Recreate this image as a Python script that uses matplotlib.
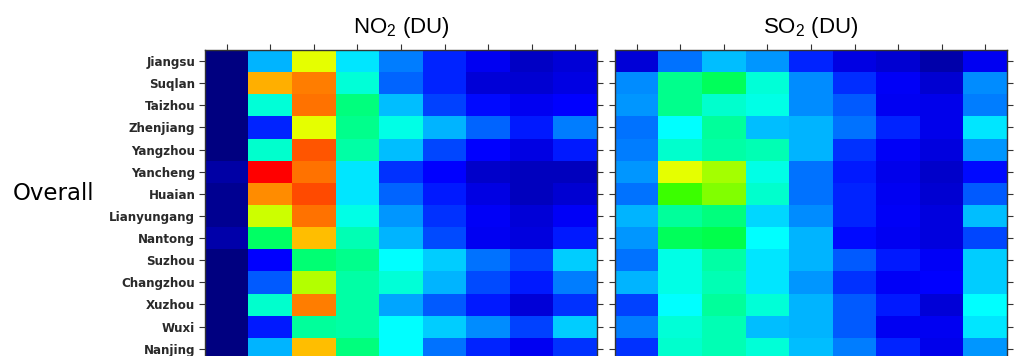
import numpy as np
import matplotlib
matplotlib.use("Agg")
import matplotlib.pyplot as plt
from matplotlib.colors import LinearSegmentedColormap

plt.rcParams['font.family'] = ['Liberation Sans', 'DejaVu Sans']
plt.rcParams['mathtext.default'] = 'regular'

cities = ["Jiangsu", "Suqlan", "Taizhou", "Zhenjiang", "Yangzhou", "Yancheng",
          "Huaian", "Lianyungang", "Nantong", "Suzhou", "Changzhou", "Xuzhou",
          "Wuxi", "Nanjing"]

# relative column amounts (0..1)
no2 = [
    [0.00, 0.34, 0.78, 0.38, 0.30, 0.23, 0.18, 0.11, 0.14],
    [0.00, 0.86, 0.90, 0.43, 0.28, 0.23, 0.14, 0.13, 0.16],
    [0.00, 0.43, 0.91, 0.50, 0.35, 0.25, 0.21, 0.18, 0.20],
    [0.00, 0.23, 0.78, 0.49, 0.42, 0.34, 0.28, 0.22, 0.30],
    [0.00, 0.44, 0.93, 0.47, 0.35, 0.255, 0.20, 0.16, 0.22],
    [0.06, 1.00, 0.91, 0.38, 0.24, 0.20, 0.12, 0.10, 0.10],
    [0.03, 0.89, 0.94, 0.38, 0.28, 0.22, 0.16, 0.10, 0.13],
    [0.03, 0.76, 0.91, 0.42, 0.32, 0.24, 0.19, 0.14, 0.19],
    [0.07, 0.52, 0.85, 0.46, 0.34, 0.26, 0.18, 0.15, 0.22],
    [0.00, 0.20, 0.51, 0.49, 0.40, 0.36, 0.29, 0.25, 0.36],
    [0.00, 0.27, 0.74, 0.47, 0.43, 0.34, 0.26, 0.22, 0.30],
    [0.00, 0.44, 0.90, 0.47, 0.33, 0.27, 0.22, 0.14, 0.24],
    [0.00, 0.22, 0.48, 0.47, 0.40, 0.36, 0.31, 0.25, 0.36],
    [0.00, 0.34, 0.85, 0.50, 0.40, 0.29, 0.23, 0.18, 0.24],
]

so2 = [
    [0.14, 0.29, 0.35, 0.32, 0.23, 0.16, 0.13, 0.07, 0.18],
    [0.31, 0.49, 0.53, 0.43, 0.31, 0.235, 0.19, 0.13, 0.31],
    [0.32, 0.49, 0.44, 0.42, 0.31, 0.27, 0.18, 0.17, 0.30],
    [0.29, 0.40, 0.48, 0.35, 0.34, 0.29, 0.23, 0.17, 0.38],
    [0.30, 0.44, 0.47, 0.46, 0.34, 0.24, 0.19, 0.15, 0.32],
    [0.32, 0.78, 0.73, 0.42, 0.29, 0.22, 0.17, 0.12, 0.21],
    [0.29, 0.645, 0.70, 0.44, 0.29, 0.23, 0.18, 0.13, 0.27],
    [0.34, 0.48, 0.50, 0.37, 0.31, 0.23, 0.19, 0.15, 0.35],
    [0.32, 0.53, 0.54, 0.40, 0.34, 0.21, 0.18, 0.15, 0.255],
    [0.29, 0.42, 0.47, 0.38, 0.34, 0.27, 0.22, 0.19, 0.36],
    [0.34, 0.42, 0.46, 0.38, 0.32, 0.24, 0.19, 0.20, 0.36],
    [0.25, 0.40, 0.48, 0.43, 0.34, 0.27, 0.22, 0.14, 0.40],
    [0.30, 0.43, 0.46, 0.35, 0.34, 0.27, 0.18, 0.18, 0.38],
    [0.24, 0.44, 0.46, 0.43, 0.35, 0.30, 0.23, 0.17, 0.32],
]

# rainbow: navy -> blue -> cyan -> green -> yellow -> red
cmap = LinearSegmentedColormap.from_list(
    "rainbow6", ["#000080", "#0000ff", "#00ffff", "#00ff00", "#ffff00", "#ff0000"])

fig = plt.figure(figsize=(10.14, 3.56), dpi=100)

W, H = 1014.0, 356.0
panels = [(205, no2, "NO$_2$ (DU)", True), (615, so2, "SO$_2$ (DU)", False)]
for x0, data, title, showlab in panels:
    ax = fig.add_axes([x0 / W, 1 - 359.8 / H, 392 / W, 309.8 / H])
    ax.imshow(np.array(data), cmap=cmap, vmin=0, vmax=1, aspect='auto',
              interpolation='nearest')
    ax.set_xticks(range(9))
    ax.set_yticks(range(len(cities)))
    ax.set_yticklabels(cities if showlab else [])
    ax.tick_params(axis='x', top=True, bottom=False, labeltop=False,
                   labelbottom=False, direction='out', length=4, width=0.8,
                   color='#333333')
    ax.tick_params(axis='y', left=True, right=True, direction='out', length=4,
                   width=0.8, color='#333333', labelsize=8.6, labelcolor='#2a2a2a',
                   pad=3)
    for lab in ax.get_yticklabels():
        lab.set_fontweight('bold')
        lab.set_family('DejaVu Sans')
    for sp in ax.spines.values():
        sp.set_color('#333333')
        sp.set_linewidth(1.0)
    fig.text((x0 + 196) / W, 1 - 28 / H, title, ha='center', va='center',
             fontsize=16)

fig.text(13 / W, 1 - 194 / H, "Overall", ha='left', va='center', fontsize=16.5,
         family='DejaVu Sans')

fig.savefig("out.png", dpi=100)
